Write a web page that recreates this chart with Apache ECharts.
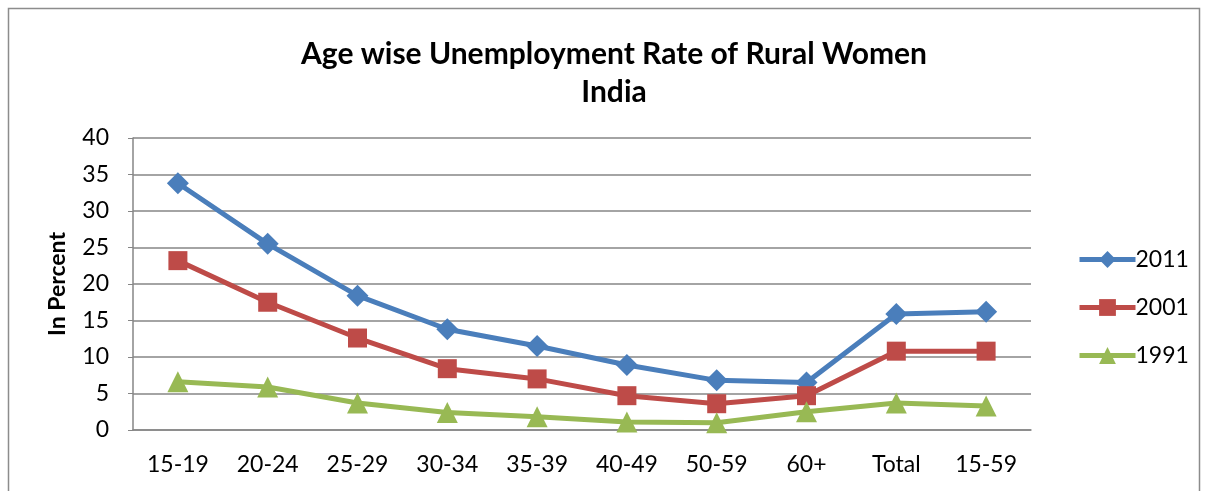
<!DOCTYPE html>
<html>
<head>
<meta charset="utf-8">
<script src="https://cdn.jsdelivr.net/npm/echarts@6/dist/echarts.min.js"></script>
<style>
  html, body { margin: 0; padding: 0; background: #fff; }
  #chart { width: 1207px; height: 491px; }
</style>
</head>
<body>
<div id="chart"></div>
<script>
// Age groups along the x axis
const ageGroups = ['15-19', '20-24', '25-29', '30-34', '35-39', '40-49', '50-59', '60+', 'Total', '15-59'];

// Unemployment rate of rural women, in percent
const rate2011 = [33.8, 25.5, 18.4, 13.8, 11.5, 8.9, 6.8, 6.5, 15.9, 16.2];
const rate2001 = [23.2, 17.5, 12.6, 8.4, 7.0, 4.7, 3.6, 4.7, 10.8, 10.8];
const rate1991 = [6.6, 5.9, 3.7, 2.4, 1.8, 1.1, 1.0, 2.5, 3.7, 3.3];

const FONT = 'Lato, "Open Sans", sans-serif';

const seriesDefs = [
  { name: '2011', data: rate2011, color: '#4A7EBB', symbol: 'diamond', size: 22 },
  { name: '2001', data: rate2001, color: '#BE4B48', symbol: 'rect', size: 19 },
  { name: '1991', data: rate1991, color: '#98B954', symbol: 'triangle', size: 21 }
];

const chart = echarts.init(document.getElementById('chart'), null, { renderer: 'canvas' });

chart.setOption({
  animation: false,
  backgroundColor: '#ffffff',
  title: {
    text: 'Age wise Unemployment Rate of Rural Women\nIndia',
    left: 609,
    textAlign: 'center',
    top: 30,
    textStyle: {
      fontFamily: FONT,
      fontWeight: 'bold',
      fontSize: 30,
      lineHeight: 38,
      color: '#000'
    }
  },
  legend: {
    orient: 'vertical',
    left: 1072,
    top: 243,
    itemGap: 25,
    itemWidth: 56,
    itemHeight: 21,
    lineStyle: { width: 5 },
    textStyle: { fontFamily: FONT, fontSize: 23, color: '#000', padding: [0, 0, 0, -5] },
    data: seriesDefs.map(s => ({ name: s.name }))
  },
  grid: { left: 133, right: 176, top: 138, bottom: 61 },
  xAxis: {
    type: 'category',
    data: ageGroups,
    boundaryGap: true,
    axisLine: { lineStyle: { color: '#868686', width: 1.5 } },
    axisTick: { show: false },
    axisLabel: { fontFamily: FONT, fontSize: 23, color: '#000', margin: 23 }
  },
  yAxis: {
    type: 'value',
    min: 0,
    max: 40,
    interval: 5,
    name: 'In Percent',
    nameLocation: 'middle',
    nameGap: 64,
    nameRotate: 90,
    nameTextStyle: { fontFamily: FONT, fontWeight: 'bold', fontSize: 23, color: '#000' },
    axisLine: { show: true, lineStyle: { color: '#868686', width: 1.5 } },
    axisTick: { show: true, length: 5, lineStyle: { color: '#868686' } },
    axisLabel: { fontFamily: FONT, fontSize: 23, color: '#000', margin: 24 },
    splitLine: { lineStyle: { color: '#868686', width: 1.5 } }
  },
  series: seriesDefs.map(s => ({
    name: s.name,
    type: 'line',
    data: s.data,
    symbol: s.symbol,
    symbolSize: s.size,
    showAllSymbol: true,
    lineStyle: { color: s.color, width: 5 },
    itemStyle: { color: s.color, borderWidth: 0 }
  })),
  graphic: [
    {
      type: 'rect',
      shape: { x: 8.5, y: 8.5, width: 1191, height: 520 },
      style: { fill: 'none', stroke: '#8c8c8c', lineWidth: 1.5 },
      silent: true
    }
  ]
});
</script>
</body>
</html>
